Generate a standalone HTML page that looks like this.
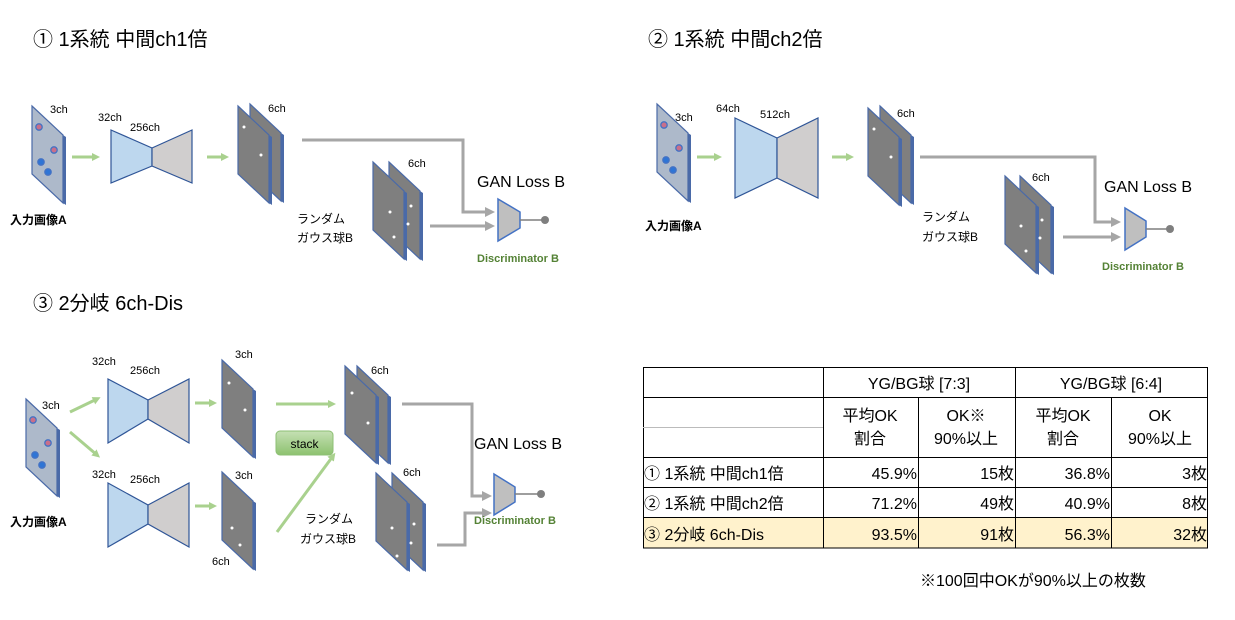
<!DOCTYPE html>
<html><head><meta charset="utf-8"><style>
body{margin:0;background:#fff;}
svg text{font-family:"Liberation Sans","Noto Sans CJK JP",sans-serif;}
</style></head><body>
<svg width="1235" height="615" viewBox="0 0 1235 615" xmlns="http://www.w3.org/2000/svg">
<defs>
<g id="inp">
 <polygon points="31,29 34,31 34,99 31,97" fill="#4a6aa8"/>
 <polygon points="0,0 31,29 31,97 0,68" fill="#adb9ca" stroke="#4a6aa8" stroke-width="1.2"/>
 <circle cx="7" cy="21" r="3.2" fill="#c96f8a" stroke="#4472c4" stroke-width="1.3"/>
 <circle cx="22" cy="44" r="3.2" fill="#c96f8a" stroke="#4472c4" stroke-width="1.3"/>
 <circle cx="9" cy="56" r="3.2" fill="#2e75d6" stroke="#4472c4" stroke-width="1.3"/>
 <circle cx="16" cy="66" r="3.2" fill="#2e75d6" stroke="#4472c4" stroke-width="1.3"/>
</g>
<g id="pl">
 <polygon points="31,29 34,31 34,99 31,97" fill="#4a6aa8"/>
 <polygon points="0,0 31,29 31,97 0,68" fill="#7f7f7f" stroke="#4a6aa8" stroke-width="1.2"/>
</g>
<marker id="ga" markerWidth="8" markerHeight="8" refX="4" refY="4" orient="auto" markerUnits="userSpaceOnUse"><polygon points="0,0 8,4 0,8" fill="#a9d18e"/></marker>
<marker id="gr" markerWidth="10" markerHeight="10" refX="5" refY="5" orient="auto" markerUnits="userSpaceOnUse"><polygon points="0,0 10,5 0,10" fill="#a6a6a6"/></marker>
<linearGradient id="sg" x1="0" y1="0" x2="0" y2="1"><stop offset="0" stop-color="#c5e0b4"/><stop offset="1" stop-color="#8dc26f"/></linearGradient>
</defs>

<!-- Panel 1 -->
<text x="33" y="46" font-size="20">① 1系統 中間ch1倍</text>
<use href="#inp" x="32" y="106"/>
<text x="50" y="113" font-size="11">3ch</text>
<text x="10" y="224" font-size="12" font-weight="bold">入力画像A</text>
<line x1="72" y1="157" x2="96" y2="157" stroke="#a9d18e" stroke-width="3" marker-end="url(#ga)"/>
<polygon points="111,130 152,148 152,166 111,183" fill="#bdd7ee" stroke="#2f5597" stroke-width="1.2"/>
<polygon points="152,148 192,130 192,183 152,166" fill="#d0cece" stroke="#2f5597" stroke-width="1.2"/>
<text x="98" y="121" font-size="11">32ch</text>
<text x="130" y="131" font-size="11">256ch</text>
<line x1="207" y1="157" x2="225" y2="157" stroke="#a9d18e" stroke-width="3" marker-end="url(#ga)"/>
<use href="#pl" x="250" y="104"/>
<use href="#pl" x="238" y="106"/>
<circle cx="244" cy="127" r="1.5" fill="#fff"/><circle cx="261" cy="155" r="1.5" fill="#fff"/>
<text x="268" y="112" font-size="11">6ch</text>
<polyline points="302,140 463,140 463,212 490,212" fill="none" stroke="#a6a6a6" stroke-width="3" marker-end="url(#gr)"/>
<use href="#pl" x="389" y="162"/>
<use href="#pl" x="373" y="162"/>
<circle cx="390" cy="212" r="1.5" fill="#fff"/><circle cx="394" cy="237" r="1.5" fill="#fff"/><circle cx="411" cy="206" r="1.5" fill="#fff"/><circle cx="408" cy="224" r="1.5" fill="#fff"/>
<text x="408" y="167" font-size="11">6ch</text>
<text x="297" y="223" font-size="12">ランダム</text>
<text x="297" y="242" font-size="12">ガウス球B</text>
<line x1="430" y1="226" x2="490" y2="226" stroke="#a6a6a6" stroke-width="3" marker-end="url(#gr)"/>
<polygon points="498,199 520,212 520,228 498,241" fill="#bfbfbf" stroke="#4472c4" stroke-width="1.5"/>
<line x1="520" y1="220" x2="545" y2="220" stroke="#7f7f7f" stroke-width="1.5"/><circle cx="545" cy="220" r="4" fill="#7f7f7f"/>
<text x="477" y="187" font-size="16">GAN Loss B</text>
<text x="477" y="262" font-size="11" font-weight="bold" fill="#548235">Discriminator B</text>

<!-- Panel 2 -->
<text x="648" y="46" font-size="20">② 1系統 中間ch2倍</text>
<use href="#inp" x="657" y="104"/>
<text x="675" y="121" font-size="11">3ch</text>
<text x="645" y="230" font-size="12" font-weight="bold">入力画像A</text>
<line x1="697" y1="157" x2="718" y2="157" stroke="#a9d18e" stroke-width="3" marker-end="url(#ga)"/>
<polygon points="735,118 777,138 777,178 735,198" fill="#bdd7ee" stroke="#2f5597" stroke-width="1.2"/>
<polygon points="777,138 818,118 818,198 777,178" fill="#d0cece" stroke="#2f5597" stroke-width="1.2"/>
<text x="716" y="112" font-size="11">64ch</text>
<text x="760" y="118" font-size="11">512ch</text>
<line x1="832" y1="157" x2="850" y2="157" stroke="#a9d18e" stroke-width="3" marker-end="url(#ga)"/>
<use href="#pl" x="880" y="106"/>
<use href="#pl" x="868" y="108"/>
<circle cx="874" cy="129" r="1.5" fill="#fff"/><circle cx="891" cy="157" r="1.5" fill="#fff"/>
<text x="897" y="117" font-size="11">6ch</text>
<polyline points="920,157 1095,157 1095,222 1116,222" fill="none" stroke="#a6a6a6" stroke-width="3" marker-end="url(#gr)"/>
<use href="#pl" x="1020" y="176"/>
<use href="#pl" x="1005" y="176"/>
<circle cx="1021" cy="226" r="1.5" fill="#fff"/><circle cx="1026" cy="251" r="1.5" fill="#fff"/><circle cx="1042" cy="220" r="1.5" fill="#fff"/><circle cx="1040" cy="238" r="1.5" fill="#fff"/>
<text x="1032" y="181" font-size="11">6ch</text>
<text x="922" y="221" font-size="12">ランダム</text>
<text x="922" y="241" font-size="12">ガウス球B</text>
<line x1="1063" y1="237" x2="1116" y2="237" stroke="#a6a6a6" stroke-width="3" marker-end="url(#gr)"/>
<polygon points="1125,208 1146,221 1146,237 1125,250" fill="#bfbfbf" stroke="#4472c4" stroke-width="1.5"/>
<line x1="1146" y1="229" x2="1170" y2="229" stroke="#7f7f7f" stroke-width="1.5"/><circle cx="1170" cy="229" r="4" fill="#7f7f7f"/>
<text x="1104" y="192" font-size="16">GAN Loss B</text>
<text x="1102" y="270" font-size="11" font-weight="bold" fill="#548235">Discriminator B</text>

<!-- Panel 3 -->
<text x="33" y="310" font-size="20">③ 2分岐 6ch-Dis</text>
<use href="#inp" x="26" y="399"/>
<text x="42" y="409" font-size="11">3ch</text>
<text x="10" y="526" font-size="12" font-weight="bold">入力画像A</text>
<line x1="70" y1="412" x2="97" y2="399" stroke="#a9d18e" stroke-width="3" marker-end="url(#ga)"/>
<line x1="70" y1="432" x2="97" y2="455" stroke="#a9d18e" stroke-width="3" marker-end="url(#ga)"/>
<polygon points="108,379 148,400 148,419 108,443" fill="#bdd7ee" stroke="#2f5597" stroke-width="1.2"/>
<polygon points="148,400 189,379 189,443 148,419" fill="#d0cece" stroke="#2f5597" stroke-width="1.2"/>
<text x="92" y="365" font-size="11">32ch</text>
<text x="130" y="374" font-size="11">256ch</text>
<polygon points="108,483 148,505 148,524 108,547" fill="#bdd7ee" stroke="#2f5597" stroke-width="1.2"/>
<polygon points="148,505 189,483 189,547 148,524" fill="#d0cece" stroke="#2f5597" stroke-width="1.2"/>
<text x="92" y="478" font-size="11">32ch</text>
<text x="130" y="483" font-size="11">256ch</text>
<line x1="195" y1="403" x2="213" y2="403" stroke="#a9d18e" stroke-width="3" marker-end="url(#ga)"/>
<line x1="195" y1="506" x2="213" y2="506" stroke="#a9d18e" stroke-width="3" marker-end="url(#ga)"/>
<use href="#pl" x="222" y="360"/>
<circle cx="229" cy="383" r="1.5" fill="#fff"/><circle cx="245" cy="410" r="1.5" fill="#fff"/>
<text x="235" y="358" font-size="11">3ch</text>
<use href="#pl" x="222" y="472"/>
<circle cx="232" cy="528" r="1.5" fill="#fff"/><circle cx="240" cy="545" r="1.5" fill="#fff"/>
<text x="235" y="479" font-size="11">3ch</text>
<text x="212" y="565" font-size="11">6ch</text>
<line x1="276" y1="404" x2="332" y2="404" stroke="#a9d18e" stroke-width="3" marker-end="url(#ga)"/>
<line x1="277" y1="532" x2="333" y2="456" stroke="#a9d18e" stroke-width="3" marker-end="url(#ga)"/>
<rect x="276" y="431" width="57" height="24" rx="4" fill="url(#sg)" stroke="#8dbf74"/>
<text x="304.5" y="448" font-size="12" text-anchor="middle">stack</text>
<use href="#pl" x="357" y="366"/>
<use href="#pl" x="345" y="366"/>
<circle cx="352" cy="393" r="1.5" fill="#fff"/><circle cx="368" cy="423" r="1.5" fill="#fff"/>
<text x="371" y="374" font-size="11">6ch</text>
<polyline points="402,404 472,404 472,496 487,496" fill="none" stroke="#a6a6a6" stroke-width="3" marker-end="url(#gr)"/>
<use href="#pl" x="392" y="473"/>
<use href="#pl" x="376" y="473"/>
<circle cx="392" cy="528" r="1.5" fill="#fff"/><circle cx="397" cy="556" r="1.5" fill="#fff"/><circle cx="414" cy="524" r="1.5" fill="#fff"/><circle cx="411" cy="543" r="1.5" fill="#fff"/>
<text x="403" y="476" font-size="11">6ch</text>
<text x="305" y="523" font-size="12">ランダム</text>
<text x="300" y="543" font-size="12">ガウス球B</text>
<polyline points="437,545 465,545 465,513 487,513" fill="none" stroke="#a6a6a6" stroke-width="3" marker-end="url(#gr)"/>
<polygon points="494,474 515,487 515,502 494,515" fill="#bfbfbf" stroke="#4472c4" stroke-width="1.5"/>
<line x1="515" y1="494" x2="541" y2="494" stroke="#7f7f7f" stroke-width="1.5"/><circle cx="541" cy="494" r="4" fill="#7f7f7f"/>
<text x="474" y="449" font-size="16">GAN Loss B</text>
<text x="474" y="524" font-size="11" font-weight="bold" fill="#548235">Discriminator B</text>

<!-- Table -->
<rect x="643" y="517" width="565" height="31" fill="#fff2cc"/>
<g stroke="#000" stroke-width="1" fill="none">
<rect x="643.5" y="367.5" width="564" height="180.5"/>
<line x1="643" y1="397.5" x2="1208" y2="397.5"/>
<line x1="643" y1="427.5" x2="823" y2="427.5" stroke="#bbb"/>
<line x1="643" y1="457.5" x2="1208" y2="457.5"/>
<line x1="643" y1="487.5" x2="1208" y2="487.5"/>
<line x1="643" y1="517.5" x2="1208" y2="517.5"/>
<line x1="823.5" y1="367" x2="823.5" y2="548"/>
<line x1="1015.5" y1="367" x2="1015.5" y2="548"/>
<line x1="918.5" y1="397" x2="918.5" y2="548"/>
<line x1="1111.5" y1="397" x2="1111.5" y2="548"/>
</g>
<g font-size="16" fill="#000">
<text x="919" y="389" text-anchor="middle">YG/BG球 [7:3]</text>
<text x="1111" y="389" text-anchor="middle">YG/BG球 [6:4]</text>
<text x="870" y="421" text-anchor="middle">平均OK</text><text x="870" y="444" text-anchor="middle">割合</text>
<text x="966" y="421" text-anchor="middle">OK※</text><text x="966" y="444" text-anchor="middle">90%以上</text>
<text x="1063" y="421" text-anchor="middle">平均OK</text><text x="1063" y="444" text-anchor="middle">割合</text>
<text x="1160" y="421" text-anchor="middle">OK</text><text x="1160" y="444" text-anchor="middle">90%以上</text>
<text x="644" y="479">① 1系統 中間ch1倍</text>
<text x="644" y="509">② 1系統 中間ch2倍</text>
<text x="644" y="540">③ 2分岐 6ch-Dis</text>
<g text-anchor="end">
<text x="917" y="479">45.9%</text><text x="1014" y="479">15枚</text><text x="1110" y="479">36.8%</text><text x="1207" y="479">3枚</text>
<text x="917" y="509">71.2%</text><text x="1014" y="509">49枚</text><text x="1110" y="509">40.9%</text><text x="1207" y="509">8枚</text>
<text x="917" y="540">93.5%</text><text x="1014" y="540">91枚</text><text x="1110" y="540">56.3%</text><text x="1207" y="540">32枚</text>
</g>
<text x="920" y="586">※100回中OKが90%以上の枚数</text>
</g>
</svg>
</body></html>
